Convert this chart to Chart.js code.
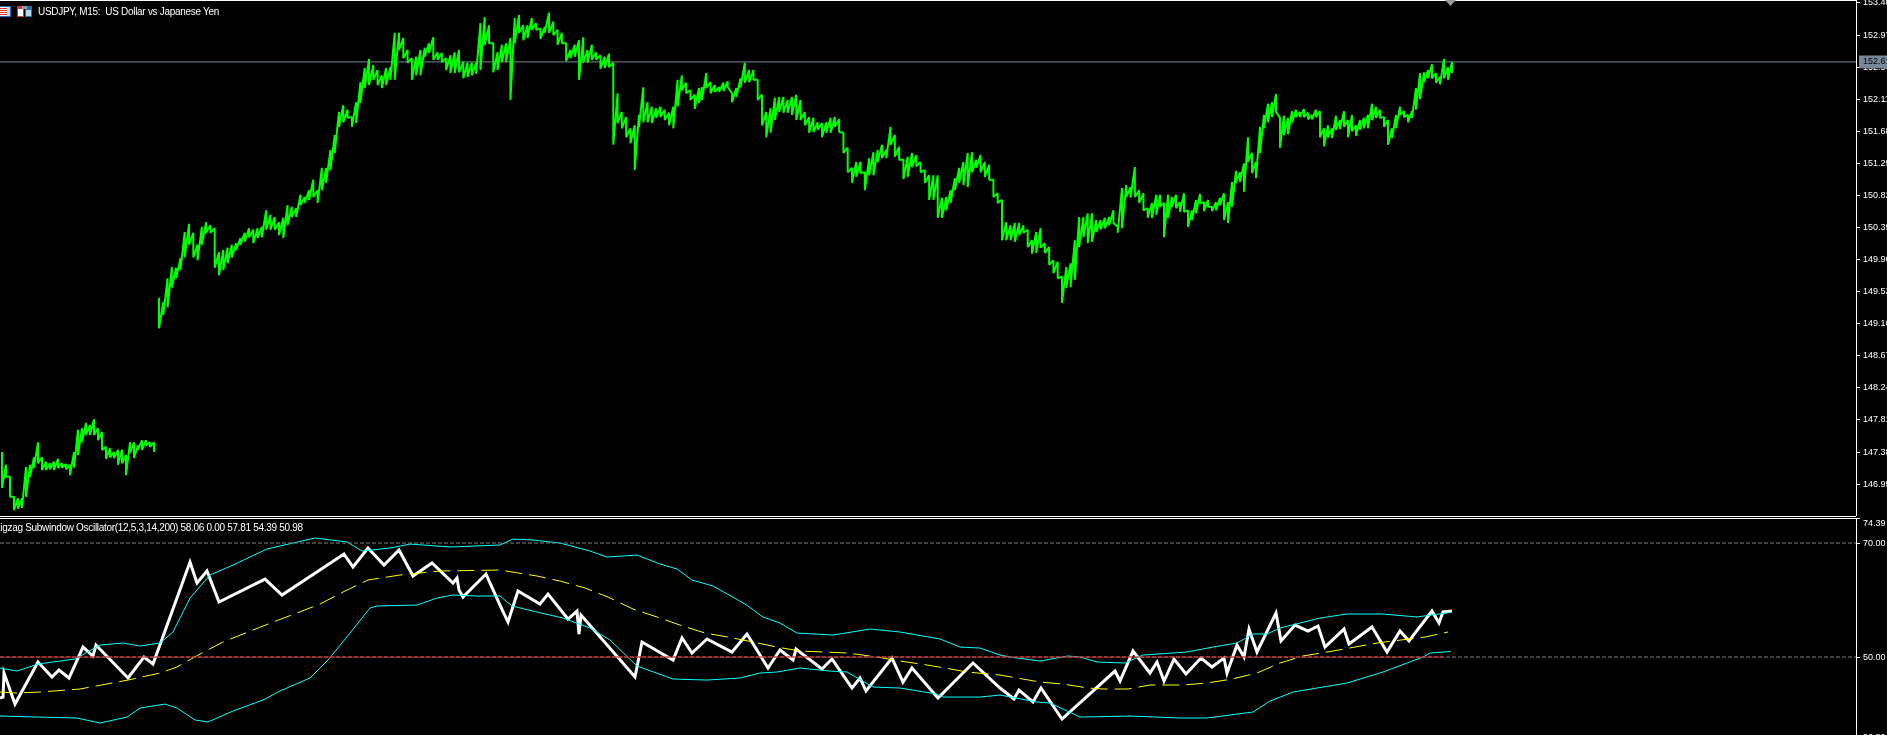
<!DOCTYPE html>
<html>
<head>
<meta charset="utf-8">
<title>USDJPY, M15</title>
<script src="https://cdn.jsdelivr.net/npm/chart.js@4/dist/chart.umd.js"></script>
<style>
  html, body { margin: 0; padding: 0; background: #000; width: 1887px; height: 735px; overflow: hidden; }
  canvas { position: absolute; left: 0; display: block; }
  #priceCanvas { top: 0; }
  #oscCanvas { top: 518px; }
  .rule { position: absolute; left: 0; width: 1856px; height: 1px; background: #fff; }
  .caption { position: absolute; color: #fff; font: 10px "Liberation Sans", sans-serif; letter-spacing: -0.3px; white-space: pre; line-height: 12px; }
  svg { position: absolute; left: 0; top: 0; }
</style>
</head>
<body>
<canvas id="priceCanvas" width="1887" height="516"></canvas>
<canvas id="oscCanvas" width="1887" height="217"></canvas>
<div class="rule" style="top:0"></div>
<div class="rule" style="top:516px"></div>
<div class="rule" style="top:518px"></div>
<svg width="1887" height="20">
  <rect x="-1" y="6" width="12" height="11" fill="#1f6fb5"/><rect x="0" y="7" width="7" height="9" fill="#fff"/>
  <rect x="0" y="8" width="7" height="1" fill="#d03a2a"/><rect x="0" y="10" width="7" height="1" fill="#d03a2a"/>
  <rect x="0" y="12" width="7" height="1" fill="#d03a2a"/><rect x="0" y="14" width="7" height="1" fill="#d03a2a"/>
  <rect x="7" y="7" width="3" height="9" fill="#bcd8f0"/>
  <rect x="17" y="6" width="7" height="11" fill="#d03a2a"/><rect x="18" y="9" width="5" height="7" fill="#fff"/>
  <rect x="25" y="6" width="7" height="11" fill="#1f6fb5"/><rect x="26" y="10" width="5" height="6" fill="#bcd8f0"/>
  <rect x="22" y="6" width="5" height="3" fill="#999"/>
  <polygon points="1445,0 1456,0 1450.5,6" fill="#9a9a9a"/>
</svg>
<div class="caption" style="left:38px;top:6px">USDJPY, M15:  US Dollar vs Japanese Yen</div>
<div class="caption" style="left:-5.5px;top:522px">Zigzag Subwindow Oscillator(12,5,3,14,200) 58.06 0.00 57.81 54.39 50.98</div>

<script>
const priceHighA = [147.38,147.21,147.05,146.78,146.76,146.76,147.18,147.21,147.31,147.51,147.31,147.25,147.23,147.25,147.29,147.23,147.22,147.21,147.38,147.68,147.70,147.77,147.74,147.82,147.70,147.65,147.45,147.43,147.38,147.41,147.41,147.34,147.51,147.51,147.47,147.54,147.54,147.51,147.51];
const priceLowA = [146.90,147.05,146.78,146.60,146.62,146.63,146.78,147.05,147.17,147.23,147.14,147.14,147.15,147.14,147.17,147.17,147.15,147.07,147.17,147.34,147.51,147.61,147.61,147.61,147.54,147.41,147.29,147.31,147.30,147.21,147.23,147.07,147.37,147.30,147.41,147.41,147.47,147.45,147.38];

const priceHighB = [149.45,149.39,149.71,149.86,149.85,149.98,150.33,150.44,150.32,150.16,150.40,150.46,150.42,150.38,150.06,150.09,150.12,150.16,150.18,150.25,150.32,150.38,150.36,150.38,150.40,150.62,150.56,150.53,150.46,150.52,150.69,150.67,150.65,150.83,150.80,150.89,151.03,150.89,151.19,151.19,151.43,151.63,151.94,152.03,151.97,151.87,152.07,152.34,152.53,152.65,152.57,152.50,152.43,152.53,152.54,153.00,153.00,152.93,152.77,152.66,152.68,152.77,152.80,152.86,152.94,152.74,152.73,152.66,152.70,152.74,152.77,152.61,152.60,152.60,152.60,153.13,153.21,153.10,152.86,152.74,152.84,152.86,152.93,153.20,153.24,153.10,153.10,153.20,153.13,153.06,153.08,153.27,153.15,153.04,153.00,152.86,152.77,152.84,152.90,152.94,152.77,152.84,152.74,152.70,152.68,152.72,152.60,152.19,151.94,151.87,151.72,151.76,151.90,152.27,152.07,152.01,151.99,152.01,151.97,151.93,152.01,152.37,152.43,152.33,152.23,152.17,152.26];
const priceLowB = [149.04,149.22,149.32,149.59,149.71,149.82,149.99,150.16,149.99,149.95,150.16,150.32,150.32,149.85,149.75,149.82,149.91,149.99,150.09,150.16,150.20,150.26,150.18,150.25,150.26,150.36,150.36,150.36,150.29,150.25,150.42,150.53,150.53,150.69,150.72,150.76,150.80,150.72,150.89,150.99,151.16,151.39,151.74,151.80,151.86,151.74,151.79,152.06,152.26,152.30,152.37,152.30,152.26,152.30,152.37,152.37,152.77,152.66,152.60,152.37,152.43,152.43,152.68,152.73,152.64,152.64,152.61,152.50,152.46,152.46,152.47,152.39,152.41,152.43,152.45,152.50,152.84,152.86,152.47,152.50,152.61,152.61,152.10,152.86,153.00,152.90,152.93,153.04,153.04,152.92,153.00,153.00,152.97,152.84,152.86,152.62,152.66,152.68,152.37,152.60,152.60,152.64,152.64,152.52,152.53,152.54,151.50,151.79,151.72,151.60,151.52,151.16,151.74,151.80,151.80,151.79,151.86,151.87,151.83,151.76,151.72,152.01,152.23,152.19,152.10,151.98,152.06];

const priceHighC = [152.27,152.46,152.34,152.30,152.27,152.33,152.35,152.19,152.26,152.39,152.60,152.50,152.50,152.37,152.17,151.94,151.99,152.13,152.14,152.14,152.10,152.14,152.17,152.10,151.94,151.87,151.86,151.80,151.79,151.80,151.86,151.87,151.84,151.66,151.46,151.19,151.27,151.27,151.13,151.32,151.40,151.43,151.50,151.43,151.74,151.63,151.47,151.30,151.34,151.39,151.36,151.27,151.16,151.09,151.09,151.09,150.79,150.80,150.89,151.05,151.19,151.27,151.39,151.40,151.30,151.36,151.27,151.23,151.03,150.85,150.76,150.46,150.42,150.45,150.45,150.42,150.36,150.22,150.33,150.38,150.18,150.13,149.95,149.93,149.73,149.86,149.91,150.22,150.53,150.53,150.58,150.58,150.49,150.49,150.52,150.53,150.62,150.40,150.92,150.96,150.93,151.20,150.89,150.85,150.65,150.72,150.83];
const priceLowC = [152.10,152.26,152.19,152.21,152.21,152.22,152.27,152.07,152.14,152.27,152.33,152.34,152.37,152.10,151.76,151.60,151.66,151.83,151.94,151.93,151.93,151.90,151.83,151.83,151.76,151.66,151.67,151.70,151.60,151.66,151.66,151.74,151.67,151.39,151.13,150.99,151.07,151.12,150.89,151.09,151.09,151.27,151.32,151.32,151.50,151.34,151.30,151.04,151.07,151.20,151.21,151.13,150.99,150.76,150.76,150.52,150.52,150.62,150.72,150.89,150.99,150.96,150.93,151.13,151.19,151.13,151.07,151.03,150.80,150.72,150.22,150.22,150.22,150.20,150.29,150.32,150.13,150.04,150.05,150.12,150.05,149.89,149.78,149.71,149.38,149.58,149.59,149.69,150.13,150.26,150.18,150.20,150.33,150.36,150.38,150.42,150.45,150.32,150.38,150.80,150.79,150.80,150.72,150.62,150.52,150.52,150.56];

const priceHighD = [150.83,150.72,150.83,150.80,150.83,150.73,150.85,150.62,150.62,150.76,150.84,150.73,150.76,150.67,150.73,150.79,150.85,150.73,151.00,151.15,151.13,151.25,151.60,151.39,151.27,151.74,151.90,152.05,152.07,152.18,151.86,151.89,151.86,151.95,151.97,151.94,151.98,151.93,151.90,151.97,151.95,151.72,151.76,151.72,151.89,151.83,151.95,151.83,151.90,151.76,151.83,151.86,151.90,152.05,152.01,151.97,151.87,151.83,151.72,151.90,152.01,151.95,151.90,151.95,152.26,152.46,152.47,152.50,152.58,152.46,152.41,152.65,152.54,152.61];
const priceLowD = [150.67,150.26,150.52,150.67,150.65,150.60,150.60,150.40,150.49,150.58,150.72,150.61,150.67,150.61,150.62,150.69,150.49,150.45,150.67,150.99,151.00,150.87,151.27,151.12,151.05,151.39,151.72,151.80,151.87,151.94,151.46,151.63,151.64,151.80,151.87,151.87,151.87,151.84,151.84,151.87,151.60,151.48,151.60,151.59,151.70,151.71,151.74,151.60,151.68,151.62,151.70,151.72,151.72,151.83,151.86,151.86,151.74,151.50,151.59,151.72,151.90,151.87,151.80,151.86,151.97,152.11,152.34,152.39,152.39,152.33,152.31,152.39,152.37,152.46];

const priceTickValues = [153.40,152.97,152.54,152.11,151.68,151.25,150.82,150.39,149.96,149.53,149.10,148.67,148.24,147.81,147.38,146.95];
const lastPrice = 152.61;

// oscillator pane
const zigzagBar = [0,3,4,15,38,52,59,69,83,93,96,128,144,153,190,197,207,219,265,282,344,353,368,384,399,413,432,453,457,459,463,486,500,508,518,540,548,568,577,579,581,635,642,673,682,692,707,732,747,768,780,793,796,822,832,852,860,866,892,903,912,938,973,1000,1014,1019,1033,1041,1062,1115,1120,1133,1150,1157,1164,1174,1186,1201,1212,1224,1227,1237,1244,1249,1257,1276,1281,1295,1308,1318,1325,1344,1349,1372,1387,1400,1409,1432,1439,1443,1452];
const zigzagValue = [42.81,42.98,47.19,41.75,49.12,46.49,47.72,46.32,51.75,50.18,52.10,46.32,50.00,48.77,66.67,62.98,65.09,59.65,63.68,60.88,68.07,65.79,69.12,66.14,68.77,64.21,66.49,62.98,63.86,61.75,60.53,64.56,59.12,56.14,61.58,59.30,61.05,56.67,58.07,54.04,57.37,46.49,52.63,49.47,53.33,50.70,53.16,50.88,54.04,48.07,51.23,49.47,51.40,47.90,49.65,44.56,46.32,44.04,49.82,45.61,48.07,42.81,48.95,44.56,42.63,44.21,42.11,44.56,39.12,47.54,45.79,51.05,47.19,49.12,45.79,49.65,47.02,49.82,48.25,49.82,47.19,52.10,50.00,54.91,50.88,57.72,52.81,55.61,54.56,55.44,51.75,54.91,52.28,55.26,50.88,54.56,52.81,58.07,55.96,57.90,58.06];

const upperBar = [0,17,38,75,100,123,140,160,173,190,210,233,267,293,315,347,362,390,410,450,500,513,533,560,590,607,637,660,677,692,713,745,763,780,797,833,870,900,940,960,980,1000,1010,1040,1068,1080,1097,1125,1143,1187,1213,1237,1253,1267,1280,1320,1347,1383,1417,1450];
const upperValue = [48.07,47.54,48.77,49.65,52.10,52.46,51.93,52.46,54.39,60.35,64.39,66.14,68.95,70.00,70.88,70.18,68.60,69.12,69.82,69.30,69.65,70.70,70.53,70.00,68.60,67.54,67.89,66.32,65.44,63.51,62.46,59.30,57.02,55.96,54.21,53.86,54.91,54.39,53.16,51.75,51.58,50.35,50.00,49.30,50.18,50.00,49.12,48.95,50.35,50.88,51.75,52.46,54.04,54.04,55.09,56.84,57.54,57.54,57.02,57.81];

const lowerBar = [0,37,77,100,127,140,165,177,195,208,233,263,280,310,328,350,370,377,417,437,453,477,500,512,537,563,590,610,637,673,707,740,760,777,800,830,847,873,900,937,943,980,1000,1037,1050,1080,1130,1180,1207,1253,1270,1293,1347,1383,1423,1430,1451];
const lowerValue = [39.65,39.47,39.30,38.42,39.47,41.05,41.75,41.05,38.95,38.60,40.53,42.46,44.04,46.32,49.47,54.21,58.60,58.95,59.12,60.35,60.88,60.70,60.70,58.95,57.89,56.84,55.09,52.98,48.42,46.14,45.96,46.32,47.19,47.37,48.07,47.54,47.37,44.74,44.56,43.51,42.98,42.98,43.33,42.11,41.93,39.47,39.65,39.30,39.30,40.35,42.28,43.86,45.44,47.37,50.00,50.70,50.98];

const signalBar = [0,17,40,80,128,160,177,200,223,248,273,297,320,345,368,400,440,500,537,560,585,608,633,657,680,705,728,753,777,800,848,877,900,927,945,967,1000,1017,1040,1063,1088,1103,1128,1150,1183,1207,1232,1257,1280,1303,1333,1377,1425,1448];
const signalValue = [43.86,43.68,43.86,44.39,45.96,47.19,48.25,50.53,52.63,54.39,56.14,57.72,59.30,61.58,63.51,64.39,65.09,65.26,64.21,63.33,62.11,60.53,58.42,57.02,55.61,54.21,53.51,52.63,51.75,51.05,50.70,50.00,49.30,48.60,48.07,47.37,46.84,46.32,45.61,45.26,44.56,44.39,44.39,45.09,45.09,45.44,46.14,47.19,48.95,50.18,51.05,52.46,53.51,54.39];

const levelBars = [0, 1856];
const level70 = [70, 70];
const level50 = [50, 50];
const redBars = [0, 1443];
const oscTickValues = [74.39, 70, 50, 36.80];

const FONT = { family: '"Liberation Sans", sans-serif', size: 9 };

// walk down each sampled range and on to the next one, so the price reads as one jagged trace
function ranges(highs, lows, start, step) {
  const out = [];
  highs.forEach((h, i) => {
    out.push({ x: start + i * step, y: h });
    out.push({ x: start + i * step, y: lows[i] });
  });
  return out;
}
function pairs(xs, ys) {
  return xs.map((x, i) => ({ x: x, y: ys[i] }));
}

const priceTrace = [
  ...ranges(priceHighA, priceLowA, 2, 4),
  { x: 156, y: null }, // weekend gap
  ...ranges(priceHighB, priceLowB, 159, 30 / 7),
  ...ranges(priceHighC, priceLowC, 702, 30 / 7),
  ...ranges(priceHighD, priceLowD, 1160, 4)
];

function rightAxis(min, max, tickValues, extra) {
  return Object.assign({
    position: "right",
    min: min,
    max: max,
    afterBuildTicks: (scale) => { scale.ticks = tickValues.map((v) => ({ value: v })); },
    afterFit: (scale) => { scale.width = 31; scale.paddingTop = 0; scale.paddingBottom = 0; },
    border: { color: "#fff", width: 1 },
    grid: { drawOnChartArea: false, tickLength: 4, color: "#fff", tickColor: "#fff" },
    ticks: { autoSkip: false, padding: 3, color: "#fff", font: FONT, maxRotation: 0 }
  }, extra);
}

const hiddenX = { type: "linear", display: false, min: 0, max: 1856, offset: false };

const baseOptions = {
  responsive: false,
  animation: false,
  events: [],
  layout: { padding: 0 },
  plugins: { legend: { display: false }, tooltip: { enabled: false } }
};

new Chart(document.getElementById("priceCanvas").getContext("2d"), {
  type: "line",
  data: {
    datasets: [
      {
        data: priceTrace,
        borderColor: "#00ff00",
        borderWidth: 2,
        borderJoinStyle: "bevel",
        pointRadius: 0,
        tension: 0,
        spanGaps: false,
        order: 1
      },
      {
        data: pairs(levelBars, [lastPrice, lastPrice]),
        borderColor: "#778899",
        borderWidth: 1,
        pointRadius: 0,
        order: 2
      }
    ]
  },
  options: {
    ...baseOptions,
    scales: {
      x: hiddenX,
      y: rightAxis(146.523, 153.44, [...priceTickValues, lastPrice], {
        ticks: {
          autoSkip: false, padding: 3, font: FONT, maxRotation: 0,
          callback: (v) => v.toFixed(2),
          color: (c) => (c.tick && c.tick.value === lastPrice ? "#000" : "#fff"),
          showLabelBackdrop: (c) => !!c.tick && c.tick.value === lastPrice,
          backdropColor: "#778899",
          backdropPadding: { x: 4, y: 1 }
        },
        grid: {
          drawOnChartArea: false, tickLength: 4, color: "#fff",
          tickColor: (c) => (c.tick && c.tick.value === lastPrice ? "rgba(0,0,0,0)" : "#fff")
        }
      })
    }
  }
});

function oscLine(xs, ys, color, width, dash, order) {
  return {
    data: pairs(xs, ys),
    borderColor: color,
    borderWidth: width,
    borderDash: dash,
    pointRadius: 0,
    tension: 0,
    order: order
  };
}

new Chart(document.getElementById("oscCanvas").getContext("2d"), {
  type: "line",
  data: {
    datasets: [
      oscLine(levelBars, level50, "#808080", 1, [4, 2], 1),
      oscLine(redBars, level50, "#ff0000", 1, [], 2),
      oscLine(levelBars, level70, "#808080", 1, [4, 2], 3),
      oscLine(upperBar, upperValue, "#00ffff", 1, [], 4),
      oscLine(lowerBar, lowerValue, "#00ffff", 1, [], 5),
      oscLine(signalBar, signalValue, "#ffff00", 1, [17, 7], 6),
      oscLine(zigzagBar, zigzagValue, "#ffffff", 3, [], 7)
    ]
  },
  options: {
    ...baseOptions,
    scales: {
      x: hiddenX,
      y: rightAxis(36.32, 74.39, oscTickValues, {
        ticks: {
          autoSkip: false, padding: 3, color: "#fff", font: FONT, maxRotation: 0,
          // the first and last labels sit below their level, as the terminal nudges them into the pane
          callback: (v) => (v === 74.39 || v === 36.80 ? ["", v.toFixed(2)] : v.toFixed(2))
        },
        grid: {
          drawOnChartArea: false, tickLength: 4, color: "#fff",
          tickColor: (c) => (c.tick && c.tick.value === 36.80 ? "rgba(0,0,0,0)" : "#fff")
        }
      })
    }
  }
});
</script>
</body>
</html>
